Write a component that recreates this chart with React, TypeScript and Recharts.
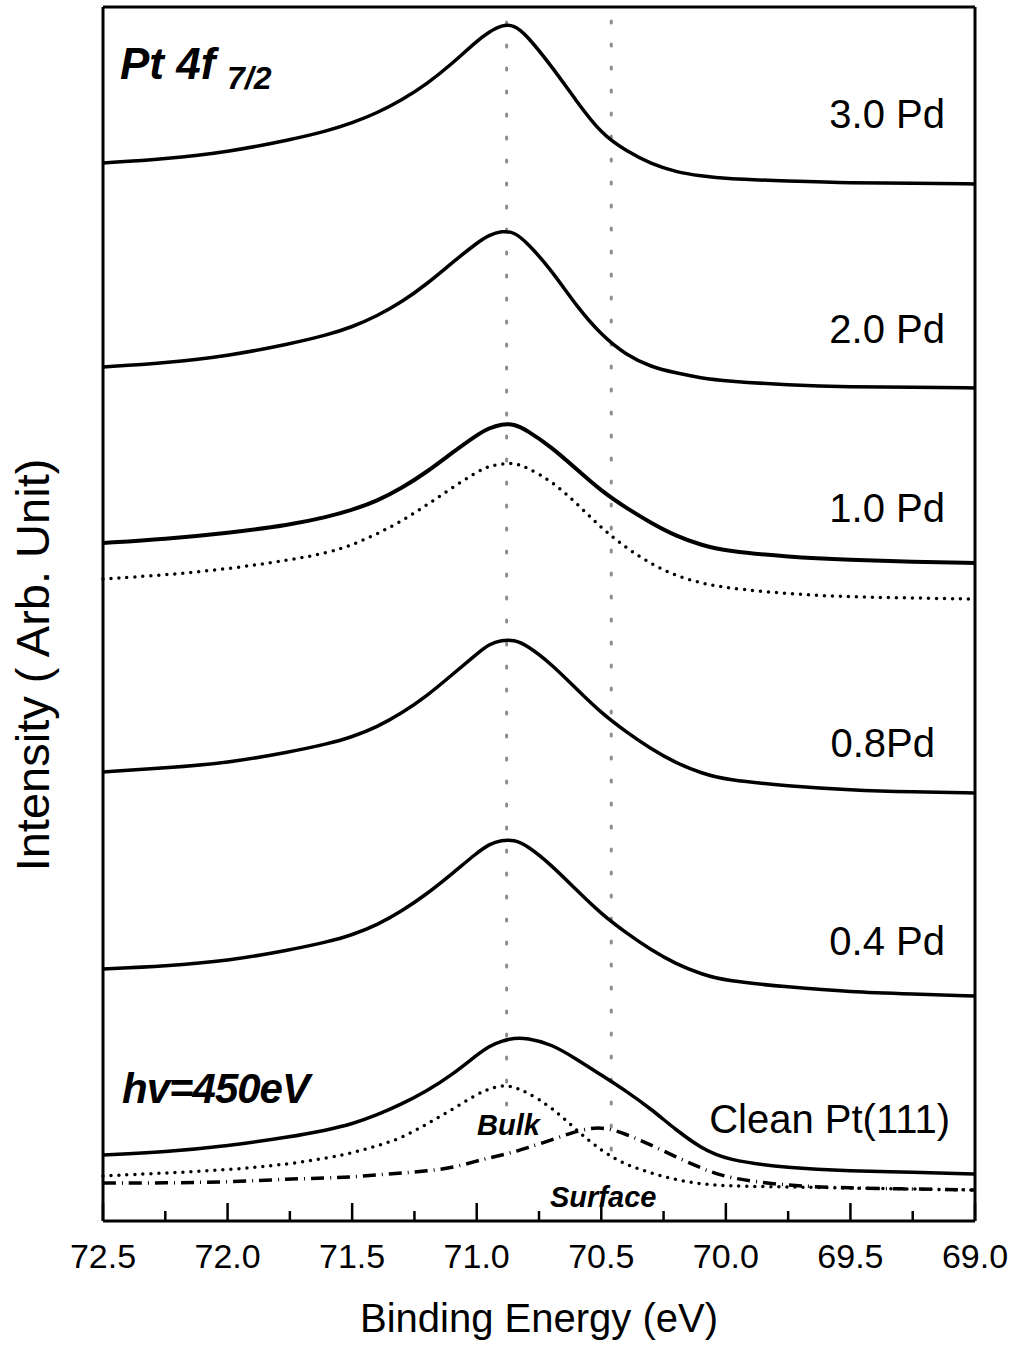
import { LineChart, Line, XAxis, YAxis, ReferenceLine } from "recharts";

// binding energy sample points (eV)
const energies = [72.5, 72.25, 72.0, 71.75, 71.6, 71.5, 71.4, 71.3, 71.2, 71.1, 71.0, 70.95, 70.9, 70.85, 70.8, 70.7, 70.6, 70.5, 70.4, 70.3, 70.2, 70.1, 70.0, 69.75, 69.5, 69.25, 69.0];

// intensities (arb. units, spectra stacked with offsets)
const pd30 = [1058, 1062, 1069, 1081, 1090, 1098, 1108, 1121, 1137, 1157, 1180, 1189, 1196, 1196, 1186, 1155, 1120, 1087, 1070, 1057, 1049, 1045, 1042, 1040, 1038, 1038, 1037];
const pd20 = [854, 858, 865, 877, 886, 894, 905, 919, 937, 958, 978, 986, 990, 989, 979, 951, 915, 886, 866, 854, 848, 843, 840, 836, 834, 834, 833];
const pd10 = [678, 682, 688, 696, 704, 711, 720, 733, 749, 768, 786, 793, 797, 797, 791, 774, 752, 730, 713, 698, 685, 676, 670, 664, 661, 659, 658];
const pd10Fit = [642, 646, 652, 661, 668, 676, 687, 700, 716, 733, 749, 755, 757, 758, 754, 740, 718, 693, 673, 657, 645, 638, 633, 627, 624, 623, 622];
const pd08 = [449, 453, 458, 469, 477, 484, 494, 508, 525, 546, 567, 577, 581, 581, 576, 557, 532, 508, 489, 472, 458, 448, 441, 435, 431, 429, 428];
const pd04 = [252, 255, 260, 271, 279, 286, 296, 310, 327, 347, 368, 377, 381, 381, 376, 356, 331, 307, 288, 271, 257, 247, 240, 234, 229, 227, 225];
const clean = [66, 69, 75, 84, 91, 97, 106, 117, 130, 146, 166, 175, 180, 183, 183, 177, 162, 146, 130, 112, 91, 73, 61, 53, 50, 49, 47];
const bulk = [45, 48, 51, 57, 63, 68, 75, 83, 97, 111, 127, 132, 136, 134, 129, 114, 91, 70, 56, 48, 41, 37, 35, 34, 33, 32, 31];
const surface = [38, 38, 39, 42, 43, 44, 46, 48, 50, 53, 60, 63, 66, 69, 73, 81, 90, 95, 87, 76, 64, 53, 43, 35, 33, 32, 31];

const majorTicks = [72.5, 72.0, 71.5, 71.0, 70.5, 70.0, 69.5, 69.0];
const allTicks = [72.5, 72.25, 72.0, 71.75, 71.5, 71.25, 71.0, 70.75, 70.5, 70.25, 70.0, 69.75, 69.5, 69.25, 69.0];

// component positions marked by the grey guide lines
const bulkPos = 70.88;
const surfacePos = 70.46;

const data = energies.map((e, i) => ({
  e,
  pd30: pd30[i],
  pd20: pd20[i],
  pd10: pd10[i],
  pd10Fit: pd10Fit[i],
  pd08: pd08[i],
  pd04: pd04[i],
  clean: clean[i],
  bulk: bulk[i],
  surface: surface[i],
}));

const FONT = "'Liberation Sans', Arial, Helvetica, sans-serif";

const EnergyTick = (props: any) => {
  const { x, y, payload } = props;
  const v = payload.value as number;
  const major = majorTicks.includes(v);
  return (
    <g>
      <line x1={x} x2={x} y1={y} y2={y - (major ? 18 : 10)} stroke="#000" strokeWidth={2.5} />
      {major && (
        <text x={x} y={y + 47} textAnchor="middle" fontSize={34} fontFamily={FONT} fill="#000">
          {v.toFixed(1)}
        </text>
      )}
    </g>
  );
};

export default function App() {
  const W = 1011;
  const H = 1346;
  return (
    <div style={{ position: "absolute", left: 0, top: 0, width: W, height: H, background: "#fff" }}>
      <LineChart width={W} height={H} data={data} margin={{ top: 7, right: 36, bottom: 0, left: 0 }}>
        <XAxis
          dataKey="e"
          type="number"
          domain={[69, 72.5]}
          reversed
          ticks={allTicks}
          interval={0}
          tickSize={0}
          tickMargin={0}
          tickLine={false}
          tick={<EnergyTick />}
          height={125}
          axisLine={{ stroke: "#000", strokeWidth: 3 }}
          label={{ value: "Binding Energy (eV)", position: "insideBottom", offset: 14, fontSize: 40, fontFamily: FONT, fill: "#000" }}
        />
        <YAxis
          type="number"
          domain={[0, 1214]}
          width={103}
          tick={false}
          tickLine={false}
          axisLine={{ stroke: "#000", strokeWidth: 3 }}
        />
        <ReferenceLine x={69} stroke="#000" strokeWidth={3} />
        <ReferenceLine y={1214} stroke="#000" strokeWidth={3} />
        <ReferenceLine
          segment={[{ x: bulkPos, y: 116 }, { x: bulkPos, y: 1212 }]}
          stroke="#8c8c8c"
          strokeWidth={3}
          strokeDasharray="2 21"
          strokeLinecap="round"
        />
        <ReferenceLine
          segment={[{ x: surfacePos, y: 71 }, { x: surfacePos, y: 1210 }]}
          stroke="#8c8c8c"
          strokeWidth={3}
          strokeDasharray="2 21"
          strokeLinecap="round"
        />
        <Line type="basis" dataKey="pd30" stroke="#000" strokeWidth={3.5} dot={false} isAnimationActive={false} />
        <Line type="basis" dataKey="pd20" stroke="#000" strokeWidth={3.5} dot={false} isAnimationActive={false} />
        <Line type="basis" dataKey="pd10Fit" stroke="#000" strokeWidth={3.5} strokeDasharray="0 8" strokeLinecap="round" dot={false} isAnimationActive={false} />
        <Line type="basis" dataKey="pd10" stroke="#000" strokeWidth={4} dot={false} isAnimationActive={false} />
        <Line type="basis" dataKey="pd08" stroke="#000" strokeWidth={3.5} dot={false} isAnimationActive={false} />
        <Line type="basis" dataKey="pd04" stroke="#000" strokeWidth={3.5} dot={false} isAnimationActive={false} />
        <Line type="basis" dataKey="bulk" stroke="#000" strokeWidth={3.5} strokeDasharray="0 8" strokeLinecap="round" dot={false} isAnimationActive={false} />
        <Line type="basis" dataKey="surface" stroke="#000" strokeWidth={3.5} strokeDasharray="13 6 1 6" dot={false} isAnimationActive={false} />
        <Line type="basis" dataKey="clean" stroke="#000" strokeWidth={3.5} dot={false} isAnimationActive={false} />
      </LineChart>
      <svg width={W} height={H} style={{ position: "absolute", left: 0, top: 0, pointerEvents: "none" }} fontFamily={FONT}>
        <text x={0} y={0} transform="translate(49,665) rotate(-90)" textAnchor="middle" fontSize={47} fill="#000">
          Intensity ( Arb. Unit)
        </text>
        <text x={120} y={79} fontSize={44} fontWeight="bold" fontStyle="italic" fill="#000">Pt 4f</text>
        <text x={227} y={89} fontSize={32} fontWeight="bold" fontStyle="italic" fill="#000">7/2</text>
        <text x={122} y={1103} fontSize={42} fontWeight="bold" fontStyle="italic" letterSpacing={-1} fill="#000">hv=450eV</text>
        <text x={477} y={1135} fontSize={29} fontWeight="bold" fontStyle="italic" fill="#000">Bulk</text>
        <text x={550} y={1207} fontSize={29} fontWeight="bold" fontStyle="italic" fill="#000">Surface</text>
        <text x={945} y={128} textAnchor="end" fontSize={40} fill="#000">3.0 Pd</text>
        <text x={945} y={343} textAnchor="end" fontSize={40} fill="#000">2.0 Pd</text>
        <text x={945} y={522} textAnchor="end" fontSize={40} fill="#000">1.0 Pd</text>
        <text x={935} y={757} textAnchor="end" fontSize={40} fill="#000">0.8Pd</text>
        <text x={945} y={955} textAnchor="end" fontSize={40} fill="#000">0.4 Pd</text>
        <text x={950} y={1133} textAnchor="end" fontSize={40} fill="#000">Clean Pt(111)</text>
      </svg>
    </div>
  );
}
